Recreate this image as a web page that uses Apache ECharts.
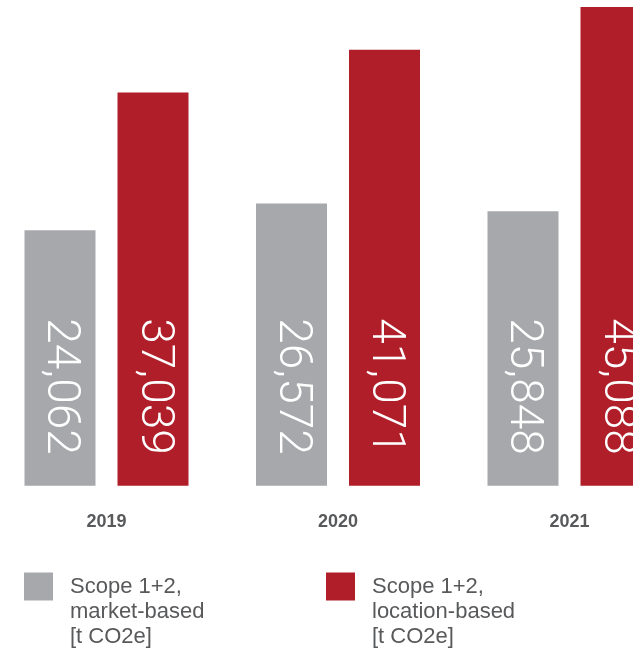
<!DOCTYPE html>
<html>
<head>
<meta charset="utf-8">
<script src="https://cdn.jsdelivr.net/npm/echarts@6/dist/echarts.min.js"></script>
<style>
  html, body { margin: 0; padding: 0; background: #fff; }
  #chart { width: 633px; height: 649px; }
</style>
</head>
<body>
<div id="chart"></div>
<script>
const years = ['2019', '2020', '2021']
const marketBased = [24062, 26572, 25848]
const locationBased = [37039, 41071, 45088]
const seriesNames = ['Scope 1+2,\nmarket-based\n[t CO2e]', 'Scope 1+2,\nlocation-based\n[t CO2e]']

const gray = '#a7a8ab'
const red = '#b01f29'
const textColor = '#58595b'

const chart = echarts.init(document.getElementById('chart'))

const valueLabel = {
  show: true,
  position: 'insideBottom',
  distance: 31,
  rotate: -90,
  align: 'right',
  verticalAlign: 'middle',
  color: '#fff',
  fontFamily: 'Roboto',
  fontWeight: 300,
  fontSize: 46,
  formatter: (p) => p.value.toLocaleString('en-US'),
}

// two blank lines in front so the first text line sits level with the swatch
const legendText = {
  color: textColor,
  fontFamily: 'Liberation Sans',
  fontSize: 22,
  lineHeight: 25,
  padding: [0, 0, 0, 12],
}

function makeLegend(name, left) {
  return {
    data: [name],
    left: left,
    top: 524,
    padding: 0,
    itemWidth: 29,
    itemHeight: 28,
    icon: 'rect',
    textStyle: legendText,
    formatter: (n) => '\n\n' + n,
  }
}

const option = {
  animation: false,
  grid: {
    left: -9.25,
    width: 694.5,
    top: 0,
    bottom: 163.3,
    outerBoundsMode: 'none',
    containLabel: false,
  },
  legend: [makeLegend(seriesNames[0], 24), makeLegend(seriesNames[1], 326)],
  xAxis: {
    type: 'category',
    data: years,
    axisLine: { show: false },
    axisTick: { show: false },
    axisLabel: {
      margin: 27,
      color: textColor,
      fontFamily: 'Liberation Sans',
      fontWeight: 'bold',
      fontSize: 18,
    },
  },
  yAxis: {
    type: 'value',
    min: 0,
    max: 45750,
    show: false,
    splitLine: { show: false },
  },
  series: [
    {
      name: seriesNames[0],
      type: 'bar',
      data: marketBased,
      barWidth: 71,
      barGap: '31%',
      itemStyle: { color: gray },
      label: valueLabel,
    },
    {
      name: seriesNames[1],
      type: 'bar',
      data: locationBased,
      barWidth: 71,
      itemStyle: { color: red },
      label: valueLabel,
    },
  ],
}

chart.setOption(option)
</script>
</body>
</html>
